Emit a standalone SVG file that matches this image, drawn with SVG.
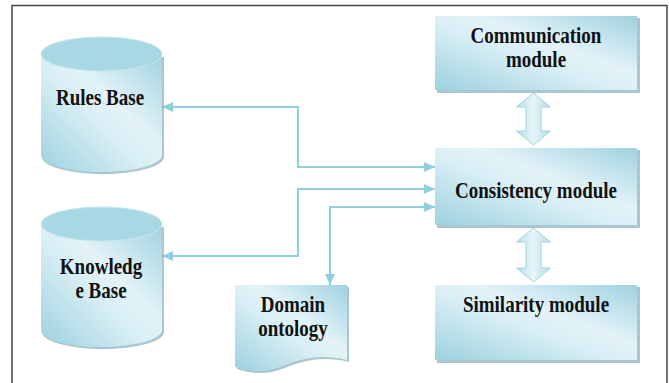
<svg xmlns="http://www.w3.org/2000/svg" width="669" height="383" viewBox="0 0 669 383">
<defs>
<linearGradient id="g" x1="0" y1="1" x2="1" y2="0">
<stop offset="0" stop-color="#9dd1df"/>
<stop offset="0.45" stop-color="#d9eff5"/>
<stop offset="0.6" stop-color="#e3f3f8"/>
<stop offset="1" stop-color="#9fd2e0"/>
</linearGradient>
<linearGradient id="ga" x1="0" y1="0" x2="1" y2="0">
<stop offset="0" stop-color="#b9e0ea"/>
<stop offset="0.5" stop-color="#e6f5f9"/>
<stop offset="1" stop-color="#b2dce7"/>
</linearGradient>
<marker id="ah" markerUnits="userSpaceOnUse" markerWidth="12" markerHeight="10" refX="11" refY="5" orient="auto-start-reverse">
<path d="M0,0 L11,5 L0,10 Z" fill="#8fd0e0"/>
</marker>
<style>
.box{fill:url(#g);}
.sh{fill:#86aebb;opacity:0.7;}
.top{fill:#a9d8e5;stroke:#c6e6ee;stroke-width:1;}
.t{font-family:"Liberation Serif","DejaVu Serif",serif;font-weight:bold;font-size:19px;fill:#111;text-anchor:middle;}
.c{fill:none;stroke:#8fd0e0;stroke-width:2;}
.ba{fill:url(#ga);stroke:#a6d3df;stroke-width:1;}
</style>
</defs>
<rect x="0" y="0" width="669" height="383" fill="#fff"/>
<path d="M12,383 L12,5.5 L667,5.5 L667,383" fill="none" stroke="#444" stroke-width="1.5"/>

<g id="connectors">
<path class="c" d="M162,107 L298,107 L298,167 L435,167" marker-start="url(#ah)" marker-end="url(#ah)"/>
<path class="c" d="M162,256 L298,256 L298,189 L435,189" marker-start="url(#ah)" marker-end="url(#ah)"/>
<path class="c" d="M330,285 L330,207 L435,207" marker-start="url(#ah)" marker-end="url(#ah)"/>
<path class="ba" d="M533.5,93 L550.5,107 L541,107 L541,131 L550.5,131 L533.5,145 L516.5,131 L526,131 L526,107 L516.5,107 Z"/>
<path class="ba" d="M533.5,228 L550.5,242 L541,242 L541,268 L550.5,268 L533.5,282 L516.5,268 L526,268 L526,242 L516.5,242 Z"/>
</g>

<g id="rules-base">
<path class="sh" d="M42,57 L42,157 A60.5,17 0 0 0 164,157 L164,57 Z"/>
<path class="box" d="M41,54 L41,155 A60.5,17 0 0 0 162,155 L162,54 Z"/>
<ellipse class="top" cx="101.5" cy="54" rx="60.5" ry="17"/>
<text class="t" transform="translate(100,105) scale(1,1.22)">Rules Base</text>
</g>

<g id="knowledge-base">
<path class="sh" d="M42,227 L42,332 A60.5,17 0 0 0 164,332 L164,227 Z"/>
<path class="box" d="M41,224 L41,330 A60.5,17 0 0 0 162,330 L162,224 Z"/>
<ellipse class="top" cx="101.5" cy="224" rx="60.5" ry="17"/>
<text class="t" transform="translate(101,274) scale(1,1.22)">Knowledg</text>
<text class="t" transform="translate(101,298) scale(1,1.22)">e Base</text>
</g>

<g id="domain-ontology">
<path class="sh" d="M237,287 L349,287 L349,362 C320,355 300,362 285,368 C265,376 250,373 237,369 Z"/>
<path class="box" d="M235,285 L347,285 L347,360 C318,353 298,360 283,366 C263,374 248,371 235,367 Z"/>
<text class="t" transform="translate(293,312) scale(1,1.22)">Domain</text>
<text class="t" transform="translate(293,336) scale(1,1.22)">ontology</text>
</g>

<g id="communication-module">
<rect class="sh" x="437" y="18" width="203" height="75"/>
<rect class="box" x="435" y="16" width="202" height="74"/>
<text class="t" transform="translate(536,43) scale(1,1.22)">Communication</text>
<text class="t" transform="translate(536,67) scale(1,1.22)">module</text>
</g>

<g id="consistency-module">
<rect class="sh" x="437" y="150" width="203" height="78"/>
<rect class="box" x="435" y="148" width="202" height="77"/>
<text class="t" transform="translate(536,198) scale(1,1.22)">Consistency module</text>
</g>

<g id="similarity-module">
<rect class="sh" x="437" y="287" width="203" height="76"/>
<rect class="box" x="435" y="285" width="202" height="75"/>
<text class="t" transform="translate(536,312) scale(1,1.22)">Similarity module</text>
</g>
</svg>
